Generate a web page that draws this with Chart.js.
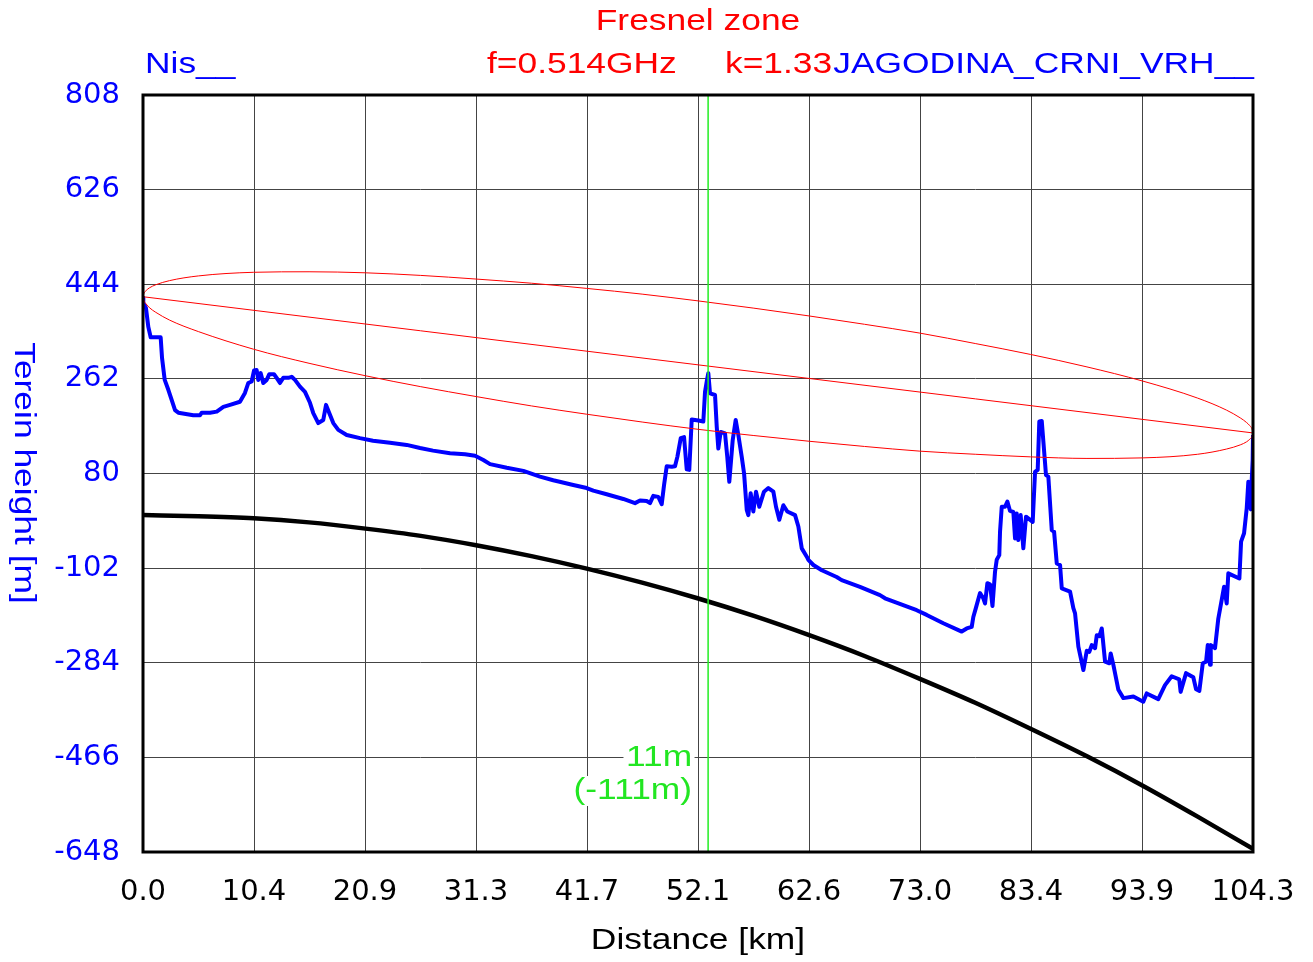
<!DOCTYPE html>
<html>
<head>
<meta charset="utf-8">
<script src="https://cdn.jsdelivr.net/npm/chart.js@4.4.0/dist/chart.umd.min.js"></script>
<style>
  body { margin: 0; background: #fff; }
  canvas { display: block; }
</style>
</head>
<body>
<canvas id="profile" width="1313" height="962"></canvas>
<script>
// axis ticks
const xTickVals = [0, 10.43, 20.86, 31.29, 41.72, 52.15, 62.58, 73.01, 83.44, 93.87, 104.3];
const xTickLabels = ['0.0', '10.4', '20.9', '31.3', '41.7', '52.1', '62.6', '73.0', '83.4', '93.9', '104.3'];
const yTickVals = [-648, -466, -284, -102, 80, 262, 444, 626, 808];

// terrain profile (km, m)
const terrainKm = [0, 0.03, 0.28, 0.5, 0.72, 1.66, 1.79, 2.04, 2.38, 2.7, 3.01, 3.32, 4.73, 5.36, 5.52, 6.3, 6.93, 7.55, 8.18, 9.11,
  9.58, 9.89, 10.21, 10.43, 10.68, 10.83, 11.06, 11.3, 11.62, 11.87, 12.31, 12.56, 12.87, 13.18, 13.65, 13.97, 14.28, 14.75, 15.22, 15.69,
  16.0, 16.47, 16.94, 17.2, 17.51, 17.88, 18.35, 19.14, 20.39, 21.61, 23.21, 24.78, 26.03, 27.25, 28.85, 30.26, 31.2, 31.98, 32.61, 34.18,
  35.74, 37.3, 38.55, 40.43, 41.69, 42.31, 43.57, 45.13, 46.23, 46.7, 47.33, 47.64, 47.95, 48.42, 48.74, 48.96, 49.21, 49.68, 49.99, 50.21,
  50.53, 50.84, 51.09, 51.33, 51.56, 52.18, 52.65, 52.81, 52.97, 53.12, 53.28, 53.75, 53.91, 54.06, 54.28, 54.69, 54.9, 55.09, 55.41, 55.69,
  55.94, 56.26, 56.48, 56.73, 56.88, 57.1, 57.35, 57.6, 57.91, 58.35, 58.76, 59.23, 59.48, 59.79, 60.17, 60.54, 61.27, 61.58, 61.9, 62.37,
  62.52, 62.99, 63.78, 65.18, 65.65, 67.37, 69.25, 69.72, 72.7, 73.64, 75.2, 76.93, 77.4, 77.87, 78.02, 78.27, 78.65, 78.96, 79.12, 79.34,
  79.59, 79.82, 80.06, 80.22, 80.46, 80.53, 80.69, 81.0, 81.22, 81.47, 81.78, 81.94, 82.1, 82.25, 82.47, 82.72, 82.97, 83.6, 83.82, 84.07,
  84.22, 84.45, 84.85, 85.07, 85.39, 85.61, 85.86, 86.17, 86.33, 87.11, 87.42, 87.58, 87.89, 88.36, 88.68, 88.92, 89.15, 89.46, 89.62, 89.86,
  90.09, 90.4, 90.8, 90.93, 91.18, 91.65, 92.12, 93.06, 93.99, 94.31, 95.4, 96.03, 96.66, 97.37, 97.5, 98.01, 98.69, 98.95, 99.26, 99.58,
  99.89, 100.05, 100.26, 100.33, 100.73, 101.04, 101.36, 101.58, 101.83, 101.98, 103.02, 103.18, 103.46, 103.71, 103.86, 104.09, 104.18, 104.27, 104.3];
const terrainH = [418, 408, 398, 362, 342, 342, 302, 260, 241, 221, 202, 197, 192, 192, 197, 197, 199, 208, 212, 218,
  235, 254, 257, 278, 279, 260, 273, 254, 260, 271, 271, 264, 254, 264, 264, 266, 260, 247, 237, 216,
  196, 177, 183, 212, 196, 177, 164, 154, 148, 143, 139, 135, 129, 124, 119, 117, 114, 106, 98, 91,
  85, 74, 67, 58, 52, 47, 40, 31, 23, 28, 27, 23, 37, 35, 21, 58, 94, 93, 94, 112,
  148, 150, 88, 87, 184, 182, 180, 237, 257, 273, 234, 231, 170, 128, 160, 157, 112, 64, 144, 183,
  154, 112, 80, 10, 0, 42, 7, 45, 16, 45, 52, 45, 16, -9, 19, 7, 0, -22, -64, -80,
  -86, -96, -106, -119, -125, -138, -154, -160, -183, -192, -208, -224, -218, -215, -196, -178, -150, -160, -170, -131,
  -133, -175, -109, -86, -77, -32, 16, 16, 26, 8, 6, -45, 3, -48, 0, -64, -3, -13, 83, 87,
  180, 181, 77, 74, -29, -32, -93, -96, -141, -147, -179, -189, -253, -298, -261, -263, -250, -256, -231, -233,
  -218, -282, -285, -266, -288, -336, -352, -349, -359, -343, -354, -327, -310, -316, -340, -304, -312, -335, -338, -285,
  -282, -250, -288, -250, -256, -199, -163, -138, -170, -112, -122, -51, -35, 13, 64, 11, 67, 106, 154];

// earth curvature reference line (k=1.33)
const curveKm = [0, 5.2, 10.4, 15.6, 20.9, 26.1, 31.3, 36.5, 41.7, 46.9, 52.1, 57.4, 62.6, 67.8, 73.0, 78.2, 83.4, 88.7, 93.9, 99.1, 104.3];
const curveH = [0, -2, -6, -14, -26, -40, -58, -79, -103, -130, -160, -194, -231, -271, -315, -361, -411, -464, -520, -580, -642];

// fresnel zone outline
const fresnelKm = [0, 0.1, 0.3, 0.6, 1.2, 2.5, 5.2, 10.4, 15.6, 20.9, 26.1, 31.3, 36.5, 41.7, 46.9, 52.15,
  57.4, 62.6, 67.8, 73.0, 78.2, 83.4, 88.7, 93.9, 99.1, 101.8, 103.1, 103.7, 104.0, 104.2, 104.3];
const fresnelTop = [420, 427, 432, 437, 443, 451, 460, 467, 468, 466, 461, 454, 446, 436, 425, 412,
  398, 383, 367, 350, 330, 309, 285, 258, 225, 202, 187, 178, 172, 166, 158];
const fresnelBottom = [420, 412, 406, 399, 390, 375, 353, 319, 292, 268, 247, 228, 210, 194, 179, 165,
  153, 142, 132, 123, 117, 112, 109, 110, 117, 127, 135, 141, 146, 151, 158];

// line of sight between antennas
const losKm = [0, 104.3];
const losH = [420, 158];

const markerKm = 53.1;

const FONT = '29px "Liberation Sans", Arial, sans-serif';
const STRETCH = 1.22;
const pts = (xs, ys) => xs.map((x, i) => ({ x: x, y: ys[i] }));

// text in the original is a wide sans, so stretch it sideways
function label(ctx, text, x, y, color, align, angle) {
  ctx.save();
  ctx.translate(x, y);
  if (angle) ctx.rotate(angle);
  ctx.scale(STRETCH, 1);
  ctx.font = FONT;
  ctx.textBaseline = 'middle';
  ctx.textAlign = align;
  const w = ctx.measureText(text).width;
  if (color.bg) {
    const left = align === 'right' ? -w : align === 'center' ? -w / 2 : 0;
    ctx.fillStyle = color.bg;
    ctx.fillRect(left - 2, -15, w + 4, 30);
  }
  ctx.fillStyle = color.fg || color;
  ctx.fillText(text, 0, 0);
  ctx.restore();
}

const overlay = {
  id: 'overlay',
  afterDraw(chart) {
    const { ctx, chartArea: a, scales } = chart;
    ctx.save();
    ctx.strokeStyle = '#000';
    ctx.lineWidth = 3;
    ctx.strokeRect(a.left, a.top, a.right - a.left, a.bottom - a.top);
    ctx.restore();

    label(ctx, 'Fresnel zone', 698, 22, '#ff0000', 'center');
    label(ctx, 'Nis__', 145, 65, '#0000ff', 'left');
    label(ctx, 'f=0.514GHz', 487, 65, '#ff0000', 'left');
    label(ctx, 'k=1.33', 725, 65, '#ff0000', 'left');
    label(ctx, 'JAGODINA_CRNI_VRH__', 1254, 65, '#0000ff', 'right');
    label(ctx, 'Distance [km]', 698, 941, '#000', 'center');
    label(ctx, 'Terein height [m]', 23, 473, '#0000ff', 'center', Math.PI / 2);

    // clearance labels next to marker
    const mx = scales.x.getPixelForValue(markerKm) - 16;
    label(ctx, '11m', mx, 758, { fg: '#22e622', bg: '#fff' }, 'right');
    label(ctx, '(-111m)', mx, 791, { fg: '#22e622', bg: '#fff' }, 'right');
  }
};

new Chart(document.getElementById('profile'), {
  type: 'line',
  data: {
    datasets: [
      {
        data: [{ x: markerKm, y: -648 }, { x: markerKm, y: 808 }],
        borderColor: '#22ee22', borderWidth: 1.5, pointRadius: 0
      },
      {
        data: pts(fresnelKm, fresnelTop),
        borderColor: '#ff0000', borderWidth: 1, pointRadius: 0, cubicInterpolationMode: 'monotone'
      },
      {
        data: pts(fresnelKm, fresnelBottom),
        borderColor: '#ff0000', borderWidth: 1, pointRadius: 0, cubicInterpolationMode: 'monotone'
      },
      {
        data: pts(losKm, losH),
        borderColor: '#ff0000', borderWidth: 1, pointRadius: 0
      },
      {
        data: pts(terrainKm, terrainH),
        borderColor: '#0000ff', borderWidth: 4, pointRadius: 0, borderJoinStyle: 'round'
      },
      {
        data: pts(curveKm, curveH),
        borderColor: '#000', borderWidth: 4.5, pointRadius: 0, cubicInterpolationMode: 'monotone'
      }
    ]
  },
  options: {
    responsive: false,
    animation: false,
    devicePixelRatio: 1,
    layout: { padding: { left: 0, top: 95, right: 60, bottom: 0 } },
    plugins: { legend: { display: false }, tooltip: { enabled: false } },
    scales: {
      x: {
        type: 'linear',
        min: 0,
        max: 104.3,
        afterBuildTicks: s => { s.ticks = xTickVals.map(v => ({ value: v })); },
        afterFit: s => { s.height = 110; s.paddingLeft = 0; s.paddingRight = 0; },
        grid: { color: '#444', lineWidth: 1, drawTicks: false },
        border: { display: false },
        ticks: {
          padding: 23,
          color: '#000',
          font: { family: 'DejaVu Sans', size: 29 },
          maxRotation: 0,
          autoSkip: false,
          callback: (v, i) => xTickLabels[i]
        }
      },
      y: {
        min: -648,
        max: 808,
        afterBuildTicks: s => { s.ticks = yTickVals.map(v => ({ value: v })); },
        afterFit: s => { s.width = 143; s.paddingTop = 0; s.paddingBottom = 0; },
        grid: { color: '#444', lineWidth: 1, drawTicks: false },
        border: { display: false },
        ticks: {
          padding: 23,
          color: '#0000ff',
          font: { family: 'DejaVu Sans', size: 29 },
          callback: v => String(v)
        }
      }
    }
  },
  plugins: [overlay]
});
</script>
</body>
</html>
